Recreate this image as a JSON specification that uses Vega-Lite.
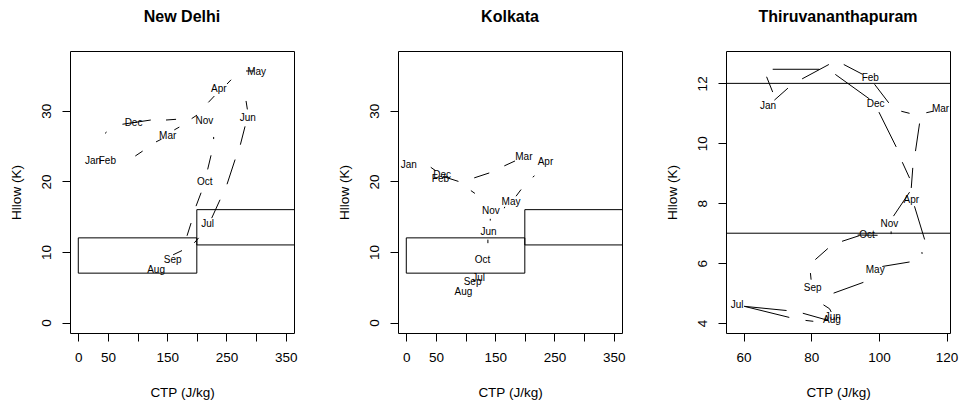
{
  "$schema": "https://vega.github.io/schema/vega-lite/v6.json",
  "background": "white",
  "padding": {"left": 8, "top": 8, "right": 5, "bottom": 5},
  "spacing": 104,
  "bounds": "flush",
  "config": {
    "font": "Liberation Sans",
    "view": {"stroke": "#000", "strokeWidth": 1},
    "axis": {
      "domain": false, "grid": false, "ticks": true, "tickColor": "#000", "tickSize": 8, "tickWidth": 1,
      "labelOverlap": false, "labelFlush": false, "labelSeparation": 0,
      "labelFont": "Liberation Sans", "labelFontSize": 13.5, "labelColor": "#000",
      "titleFont": "Liberation Sans", "titleFontSize": 13.5, "titleFontWeight": "normal", "titleColor": "#000"
    },
    "axisX": {"labelAngle": 0, "labelPadding": 9, "titlePadding": 22},
    "axisY": {"labelAngle": -90, "labelAlign": "center", "labelBaseline": "alphabetic", "labelPadding": 12, "titlePadding": 16},
    "title": {"font": "Liberation Sans", "fontSize": 16, "fontWeight": "bold", "color": "#000", "anchor": "middle", "frame": "group", "baseline": "alphabetic", "offset": 26}
  },
  "datasets": {
    "delhiLabels": [
      {"month": "Jan", "x": 25, "y": 22.9}, {"month": "Feb", "x": 49, "y": 22.9},
      {"month": "Mar", "x": 150.8, "y": 26.4}, {"month": "Apr", "x": 237.2, "y": 33.05},
      {"month": "May", "x": 301, "y": 35.55}, {"month": "Jun", "x": 285.9, "y": 29.0},
      {"month": "Jul", "x": 218.3, "y": 13.9}, {"month": "Aug", "x": 131.2, "y": 7.4},
      {"month": "Sep", "x": 159.2, "y": 8.9}, {"month": "Oct", "x": 213.6, "y": 19.9},
      {"month": "Nov", "x": 212.7, "y": 28.55}, {"month": "Dec", "x": 93.2, "y": 28.3}
    ],
    "delhiSegments": [
      {"x": 45.1, "y": 26.8, "x2": 47.8, "y2": 27.0},
      {"x": 74.5, "y": 28.1, "x2": 122.3, "y2": 28.7},
      {"x": 148, "y": 28.7, "x2": 165, "y2": 28.8},
      {"x": 191.3, "y": 28.9, "x2": 200.4, "y2": 29.4},
      {"x": 131.2, "y": 25.6, "x2": 140.6, "y2": 26.0},
      {"x": 162, "y": 27.3, "x2": 170.5, "y2": 27.7},
      {"x": 96.2, "y": 23.6, "x2": 108.6, "y2": 24.3},
      {"x": 219.5, "y": 31.2, "x2": 229.6, "y2": 32.1},
      {"x": 251, "y": 33.8, "x2": 257.8, "y2": 34.4},
      {"x": 283.1, "y": 35.65, "x2": 297.2, "y2": 35.65},
      {"x": 283.1, "y": 31.4, "x2": 285.3, "y2": 30.2},
      {"x": 281.4, "y": 27.8, "x2": 273.5, "y2": 25.2},
      {"x": 264.6, "y": 23.1, "x2": 251, "y2": 19.6},
      {"x": 239.2, "y": 17.4, "x2": 225.1, "y2": 14.8},
      {"x": 203.1, "y": 12.0, "x2": 195.8, "y2": 11.3},
      {"x": 228.4, "y": 26.3, "x2": 228.4, "y2": 26.0},
      {"x": 224, "y": 23.7, "x2": 218.3, "y2": 21.7},
      {"x": 207.2, "y": 18.4, "x2": 198.7, "y2": 16.5},
      {"x": 190.3, "y": 14.1, "x2": 183.5, "y2": 12.3},
      {"x": 160, "y": 9.6, "x2": 175, "y2": 10.2}
    ],
    "kolkataLabels": [
      {"month": "Jan", "x": 4.1, "y": 22.3}, {"month": "Feb", "x": 57.6, "y": 20.4},
      {"month": "Mar", "x": 198.4, "y": 23.4}, {"month": "Apr", "x": 234.8, "y": 22.8},
      {"month": "May", "x": 176.7, "y": 17.1}, {"month": "Jun", "x": 138.9, "y": 12.8},
      {"month": "Jul", "x": 121.9, "y": 6.3}, {"month": "Aug", "x": 96.5, "y": 4.3},
      {"month": "Sep", "x": 111.8, "y": 5.7}, {"month": "Oct", "x": 128.7, "y": 8.8},
      {"month": "Nov", "x": 142.9, "y": 15.8}, {"month": "Dec", "x": 60.4, "y": 20.9}
    ],
    "kolkataSegments": [
      {"x": 41.3, "y": 22.0, "x2": 49.8, "y2": 21.5},
      {"x": 62, "y": 20.7, "x2": 88, "y2": 20.0},
      {"x": 114.6, "y": 20.5, "x2": 140, "y2": 21.2},
      {"x": 165.4, "y": 22.2, "x2": 183.5, "y2": 22.9},
      {"x": 109, "y": 18.7, "x2": 115.8, "y2": 18.3},
      {"x": 213.4, "y": 20.6, "x2": 216.3, "y2": 20.8},
      {"x": 185.2, "y": 17.9, "x2": 193.7, "y2": 18.85},
      {"x": 165.4, "y": 16.2, "x2": 166.2, "y2": 16.4},
      {"x": 141.7, "y": 14.7, "x2": 141.7, "y2": 14.45},
      {"x": 137.7, "y": 11.75, "x2": 137.7, "y2": 11.25}
    ],
    "boxes": [
      {"x": 0, "y": 7, "x2": 200, "y2": 12},
      {"x": 200, "y": 11, "x2": 400, "y2": 16}
    ],
    "tvmLabels": [
      {"month": "Jan", "x": 67.2, "y": 11.26}, {"month": "Feb", "x": 97.45, "y": 12.19},
      {"month": "Mar", "x": 118.2, "y": 11.15}, {"month": "Apr", "x": 109.55, "y": 8.12},
      {"month": "May", "x": 98.9, "y": 5.76}, {"month": "Jun", "x": 86.35, "y": 4.19},
      {"month": "Jul", "x": 58.1, "y": 4.61}, {"month": "Aug", "x": 86.1, "y": 4.11},
      {"month": "Sep", "x": 80.4, "y": 5.17}, {"month": "Oct", "x": 96.5, "y": 6.95},
      {"month": "Nov", "x": 103.1, "y": 7.32}, {"month": "Dec", "x": 99.05, "y": 11.30}
    ],
    "tvmSegments": [
      {"x": 68.6, "y": 12.47, "x2": 82.4, "y2": 12.47},
      {"x": 66.8, "y": 12.22, "x2": 68.6, "y2": 11.71},
      {"x": 69.1, "y": 11.44, "x2": 73.1, "y2": 11.84},
      {"x": 77.3, "y": 12.15, "x2": 85.2, "y2": 12.63},
      {"x": 89.6, "y": 12.63, "x2": 95.2, "y2": 12.30},
      {"x": 87.1, "y": 12.30, "x2": 97.2, "y2": 11.48},
      {"x": 98.7, "y": 11.97, "x2": 102.9, "y2": 11.35},
      {"x": 100.0, "y": 11.04, "x2": 105.1, "y2": 9.88},
      {"x": 106.6, "y": 11.07, "x2": 109.05, "y2": 11.0},
      {"x": 114.0, "y": 11.02, "x2": 116.0, "y2": 11.07},
      {"x": 112.0, "y": 10.66, "x2": 110.8, "y2": 9.74},
      {"x": 106.9, "y": 9.37, "x2": 109.05, "y2": 8.84},
      {"x": 110.0, "y": 9.18, "x2": 109.55, "y2": 8.51},
      {"x": 104.3, "y": 7.57, "x2": 109.05, "y2": 8.37},
      {"x": 110.5, "y": 7.90, "x2": 113.5, "y2": 6.79},
      {"x": 112.7, "y": 6.37, "x2": 112.75, "y2": 6.31},
      {"x": 103.6, "y": 7.06, "x2": 103.6, "y2": 6.97},
      {"x": 89.1, "y": 6.73, "x2": 94.25, "y2": 6.92},
      {"x": 93.7, "y": 6.94, "x2": 99.6, "y2": 6.93},
      {"x": 81.2, "y": 6.12, "x2": 84.9, "y2": 6.49},
      {"x": 79.75, "y": 5.67, "x2": 79.95, "y2": 5.45},
      {"x": 101.0, "y": 5.89, "x2": 109.05, "y2": 6.04},
      {"x": 86.6, "y": 5.0, "x2": 95.4, "y2": 5.36},
      {"x": 60.2, "y": 4.56, "x2": 72.7, "y2": 4.42},
      {"x": 60.2, "y": 4.56, "x2": 73.5, "y2": 4.19},
      {"x": 77.5, "y": 4.33, "x2": 84.4, "y2": 4.11},
      {"x": 78.3, "y": 4.09, "x2": 80.6, "y2": 4.06},
      {"x": 83.6, "y": 4.61, "x2": 85.4, "y2": 4.48},
      {"x": 85.4, "y": 4.48, "x2": 85.9, "y2": 4.37}
    ],
    "tvmLevels": [{"y": 12}, {"y": 7}]
  },
  "hconcat": [
    {
      "title": "New Delhi",
      "width": 224, "height": 282,
      "encoding": {
        "x": {"field": "x", "type": "quantitative", "scale": {"domain": [-14, 364], "nice": false, "zero": false},
              "axis": {"title": "CTP (J/kg)", "values": [0, 50, 100, 150, 200, 250, 300, 350], "tickCount": 8,
                       "labelExpr": "datum.value == 100 || datum.value == 200 || datum.value == 300 ? '' : datum.label"}},
        "y": {"field": "y", "type": "quantitative", "scale": {"domain": [-1.48, 38.48], "nice": false, "zero": false},
              "axis": {"title": "Hllow (K)", "values": [0, 10, 20, 30]}}
      },
      "layer": [
        {
          "data": {"name": "delhiSegments"},
          "mark": {"type": "rule", "color": "#000", "strokeWidth": 1, "clip": true},
          "encoding": {"x2": {"field": "x2"}, "y2": {"field": "y2"}}
        },
        {
          "data": {"name": "boxes"},
          "mark": {"type": "rect", "fillOpacity": 0, "stroke": "#000", "strokeWidth": 1, "clip": true},
          "encoding": {"x2": {"field": "x2"}, "y2": {"field": "y2"}}
        },
        {
          "data": {"name": "delhiLabels"},
          "mark": {"type": "text", "font": "Liberation Sans", "fontSize": 10, "fill": "#000", "align": "center", "baseline": "middle", "clip": true},
          "encoding": {"text": {"field": "month", "type": "nominal"}}
        }
      ]
    },
    {
      "title": "Kolkata",
      "width": 224, "height": 282,
      "encoding": {
        "x": {"field": "x", "type": "quantitative", "scale": {"domain": [-14, 364], "nice": false, "zero": false},
              "axis": {"title": "CTP (J/kg)", "values": [0, 50, 100, 150, 200, 250, 300, 350], "tickCount": 8,
                       "labelExpr": "datum.value == 100 || datum.value == 200 || datum.value == 300 ? '' : datum.label"}},
        "y": {"field": "y", "type": "quantitative", "scale": {"domain": [-1.48, 38.48], "nice": false, "zero": false},
              "axis": {"title": "Hllow (K)", "values": [0, 10, 20, 30]}}
      },
      "layer": [
        {
          "data": {"name": "kolkataSegments"},
          "mark": {"type": "rule", "color": "#000", "strokeWidth": 1, "clip": true},
          "encoding": {"x2": {"field": "x2"}, "y2": {"field": "y2"}}
        },
        {
          "data": {"name": "boxes"},
          "mark": {"type": "rect", "fillOpacity": 0, "stroke": "#000", "strokeWidth": 1, "clip": true},
          "encoding": {"x2": {"field": "x2"}, "y2": {"field": "y2"}}
        },
        {
          "data": {"name": "kolkataLabels"},
          "mark": {"type": "text", "font": "Liberation Sans", "fontSize": 10, "fill": "#000", "align": "center", "baseline": "middle", "clip": true},
          "encoding": {"text": {"field": "month", "type": "nominal"}}
        }
      ]
    },
    {
      "title": "Thiruvananthapuram",
      "width": 224, "height": 282,
      "layer": [
        {
          "data": {"name": "tvmLevels"},
          "mark": {"type": "rule", "color": "#000", "strokeWidth": 1},
          "encoding": {
            "y": {"field": "y", "type": "quantitative", "scale": {"domain": [3.67, 13.08], "nice": false, "zero": false},
                  "axis": {"title": "Hllow (K)", "values": [4, 6, 8, 10, 12]}}
          }
        },
        {
          "data": {"name": "tvmSegments"},
          "mark": {"type": "rule", "color": "#000", "strokeWidth": 1, "clip": true},
          "encoding": {
            "x": {"field": "x", "type": "quantitative", "scale": {"domain": [54.8, 121], "nice": false, "zero": false},
                  "axis": {"title": "CTP (J/kg)", "values": [60, 70, 80, 90, 100, 110, 120],
                           "labelExpr": "datum.value == 110 ? '' : datum.label"}},
            "x2": {"field": "x2"},
            "y": {"field": "y", "type": "quantitative", "scale": {"domain": [3.67, 13.08], "nice": false, "zero": false}},
            "y2": {"field": "y2"}
          }
        },
        {
          "data": {"name": "tvmLabels"},
          "mark": {"type": "text", "font": "Liberation Sans", "fontSize": 10, "fill": "#000", "align": "center", "baseline": "middle", "clip": true},
          "encoding": {
            "x": {"field": "x", "type": "quantitative", "scale": {"domain": [54.8, 121], "nice": false, "zero": false}},
            "y": {"field": "y", "type": "quantitative", "scale": {"domain": [3.67, 13.08], "nice": false, "zero": false}},
            "text": {"field": "month", "type": "nominal"}
          }
        }
      ]
    }
  ]
}
